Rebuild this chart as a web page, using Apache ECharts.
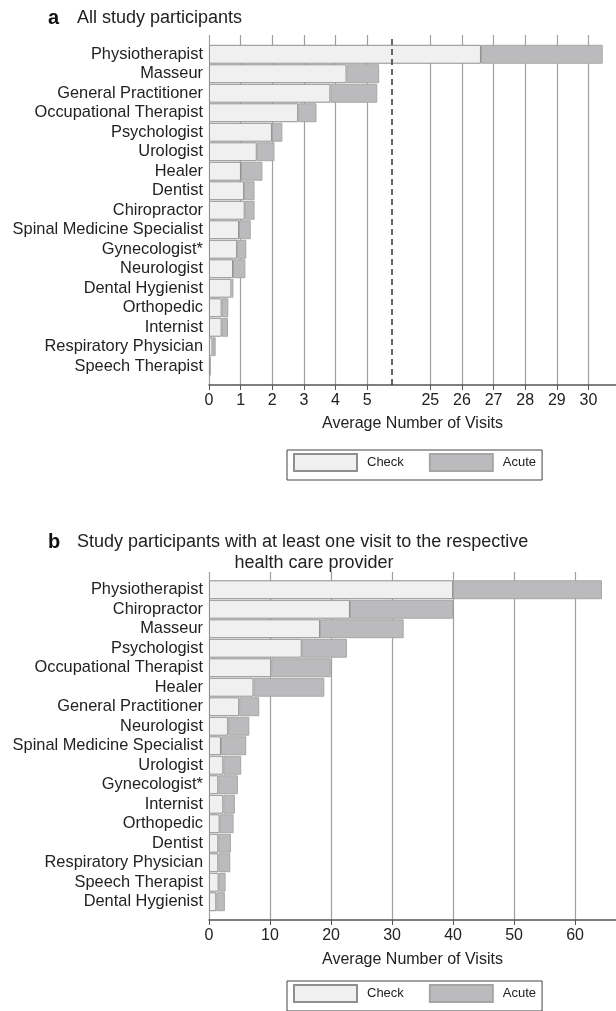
<!DOCTYPE html>
<html>
<head>
<meta charset="utf-8">
<title>Average number of visits by health care provider</title>
<script src="https://cdn.jsdelivr.net/npm/echarts@6/dist/echarts.min.js"></script>
<style>
  html, body { margin: 0; padding: 0; background: #fff; }
  #chart { width: 616px; height: 1011px; }
</style>
</head>
<body>
<div id="chart"></div>
<script>
// panel a: all study participants
const catsA = ['Physiotherapist', 'Masseur', 'General Practitioner', 'Occupational Therapist',
  'Psychologist', 'Urologist', 'Healer', 'Dentist', 'Chiropractor', 'Spinal Medicine Specialist',
  'Gynecologist*', 'Neurologist', 'Dental Hygienist', 'Orthopedic', 'Internist',
  'Respiratory Physician', 'Speech Therapist'];
const checkA = [26.6, 4.35, 3.84, 2.82, 1.99, 1.51, 1.01, 1.11, 1.13, 0.95, 0.89, 0.76, 0.71, 0.40, 0.40, 0.11, 0.03];
const acuteA = [3.85, 1.03, 1.48, 0.58, 0.33, 0.56, 0.68, 0.33, 0.31, 0.37, 0.29, 0.39, 0.06, 0.21, 0.20, 0.10, 0.02];
const ticksA = [0, 1, 2, 3, 4, 5, 25, 26, 27, 28, 29, 30];

// panel b: participants with at least one visit to the provider
const catsB = ['Physiotherapist', 'Chiropractor', 'Masseur', 'Psychologist', 'Occupational Therapist',
  'Healer', 'General Practitioner', 'Neurologist', 'Spinal Medicine Specialist', 'Urologist',
  'Gynecologist*', 'Internist', 'Orthopedic', 'Dentist', 'Respiratory Physician',
  'Speech Therapist', 'Dental Hygienist'];
const checkB = [40.0, 23.1, 18.2, 15.2, 10.2, 7.3, 4.95, 3.15, 1.96, 2.35, 1.53, 2.35, 1.75, 1.53, 1.53, 1.58, 1.2];
const acuteB = [24.4, 16.9, 13.7, 7.4, 9.75, 11.6, 3.28, 3.45, 4.14, 2.93, 3.2, 1.89, 2.28, 2.06, 1.96, 1.14, 1.4];
const ticksB = [0, 10, 20, 30, 40, 50, 60];

// broken axis in panel a: everything past the dashed line is shifted left by 18
const BREAK_AT = 5.77;
const BREAK_SHIFT = 18;
const toAxis = v => (v > BREAK_AT ? v - BREAK_SHIFT : v);
const fromAxis = v => (v > BREAK_AT ? v + BREAK_SHIFT : v);

const checkAxisA = checkA.map(toAxis);
const acuteAxisA = acuteA.map((v, i) => toAxis(checkA[i] + v) - toAxis(checkA[i]));

const FONT = '"Liberation Sans", Arial, Helvetica, sans-serif';
const CHECK_COLOR = '#eff0ef';
const ACUTE_COLOR = '#bbbbbd';

const chart = echarts.init(document.getElementById('chart'), null, { renderer: 'canvas' });

// grid for the gridlines / value axis, plus an inner grid for the bars
const gridAxis = (gridIndex, max, ticks, formatter, nameGap) => ({
  gridIndex: gridIndex,
  type: 'value',
  min: 0,
  max: max,
  name: 'Average Number of Visits',
  nameLocation: 'middle',
  nameGap: nameGap,
  nameTextStyle: { fontFamily: FONT, fontSize: 16, color: '#222' },
  axisLine: { show: true, lineStyle: { color: '#555', width: 1.5 } },
  axisTick: { show: true, length: 5, customValues: ticks, lineStyle: { color: '#555' } },
  axisLabel: {
    customValues: ticks,
    margin: 8,
    fontFamily: FONT,
    fontSize: 16,
    color: '#222',
    formatter: formatter
  },
  splitLine: { show: true, lineStyle: { color: '#a0a0a0', width: 1.2 } }
});

const barAxis = (gridIndex, max) => ({
  gridIndex: gridIndex, type: 'value', min: 0, max: max, show: false, splitLine: { show: false }
});

const catAxis = (gridIndex, cats) => ({
  gridIndex: gridIndex,
  type: 'category',
  data: cats,
  inverse: true,
  axisLine: { show: false },
  axisTick: { show: false },
  axisLabel: { interval: 0, margin: 6, fontFamily: FONT, fontSize: 16.4, color: '#222' }
});

const dummyY = gridIndex => ({ gridIndex: gridIndex, type: 'value', min: 0, max: 1, show: false });

const barSeries = (name, data, axisIndex, stack, color, border) => ({
  name: name,
  type: 'bar',
  stack: stack,
  xAxisIndex: axisIndex,
  yAxisIndex: axisIndex,
  data: data,
  barCategoryGap: '3%',
  itemStyle: { color: color, borderColor: border, borderWidth: 1 }
});

const legend = top => ({
  data: ['Check', 'Acute'],
  left: 287,
  top: top,
  orient: 'horizontal',
  icon: 'rect',
  itemWidth: 63,
  itemHeight: 17,
  itemGap: 25,
  padding: [3, 6, 8, 6],
  borderColor: '#444',
  borderWidth: 1,
  textStyle: { fontFamily: FONT, fontSize: 13, color: '#222', padding: [0, 0, 0, 5] }
});

const maxA = 12.87;
const maxB = 66.7;

const option = {
  animation: false,
  backgroundColor: '#fff',
  grid: [
    { left: 209, right: 0, top: 35, height: 350 },
    { left: 209, right: 0, top: 44.5, height: 331.5 },
    { left: 209, right: 0, top: 572, height: 348 },
    { left: 209, right: 0, top: 580, height: 331.5 }
  ],
  xAxis: [
    gridAxis(0, maxA, ticksA.map(toAxis), v => String(Math.round(fromAxis(v))), 31),
    barAxis(1, maxA),
    gridAxis(2, maxB, ticksB, v => String(v), 32),
    barAxis(3, maxB)
  ],
  yAxis: [dummyY(0), catAxis(1, catsA), dummyY(2), catAxis(3, catsB)],
  legend: [legend(450), legend(981)],
  graphic: [
    { type: 'text', x: 48, y: 18, style: { text: 'a', font: 'bold 20px ' + FONT, fill: '#111', verticalAlign: 'middle' } },
    { type: 'text', x: 77, y: 18, style: { text: 'All study participants', font: '18px ' + FONT, fill: '#222', verticalAlign: 'middle' } },
    { type: 'text', x: 48, y: 542, style: { text: 'b', font: 'bold 20px ' + FONT, fill: '#111', verticalAlign: 'middle' } },
    { type: 'text', x: 77, y: 542, style: { text: 'Study participants with at least one visit to the respective', font: '18px ' + FONT, fill: '#222', verticalAlign: 'middle' } },
    { type: 'text', x: 314, y: 563, style: { text: 'health care provider', font: '18px ' + FONT, fill: '#222', verticalAlign: 'middle', align: 'center' } }
  ],
  series: [
    // dashed line marking the axis break
    {
      type: 'line',
      xAxisIndex: 0,
      yAxisIndex: 0,
      data: [],
      markLine: {
        silent: true,
        symbol: 'none',
        label: { show: false },
        lineStyle: { type: [6, 4], color: '#333', width: 1.5 },
        data: [{ xAxis: BREAK_AT }]
      }
    },
    barSeries('Check', checkAxisA, 1, 'a', CHECK_COLOR, '#8f8f8f'),
    barSeries('Acute', acuteAxisA, 1, 'a', ACUTE_COLOR, '#a6a6a6'),
    barSeries('Check', checkB, 3, 'b', CHECK_COLOR, '#8f8f8f'),
    barSeries('Acute', acuteB, 3, 'b', ACUTE_COLOR, '#a6a6a6')
  ]
};

chart.setOption(option);
</script>
</body>
</html>
